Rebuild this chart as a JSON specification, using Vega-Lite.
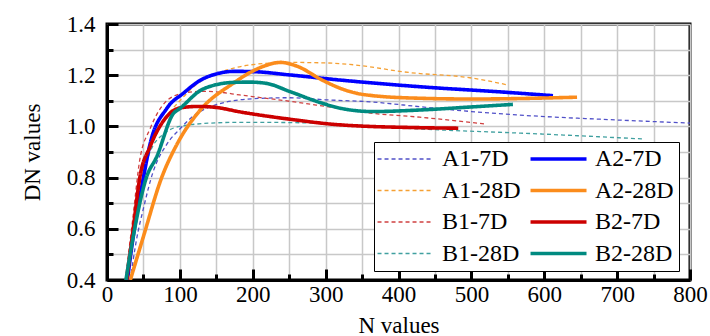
{
  "$schema": "https://vega.github.io/schema/vega-lite/v6.json",
  "width": 583,
  "height": 256,
  "autosize": {"type": "none"},
  "padding": {"left": 107, "top": 24, "right": 20, "bottom": 56},
  "background": "white",
  "config": {
    "view": {"stroke": "black", "strokeWidth": 3},
    "font": "Liberation Serif",
    "axis": {
      "domainColor": "black", "domainWidth": 3,
      "tickColor": "black", "tickWidth": 3,
      "gridColor": "#c8c8c8", "gridWidth": 1.5, "gridOpacity": 1,
      "labelFont": "Liberation Serif", "labelFontSize": 23, "labelColor": "black",
      "titleFont": "Liberation Serif", "titleFontSize": 23, "titleFontWeight": "normal", "titleColor": "black"
    },
    "legend": {
      "labelFont": "Liberation Serif", "labelFontSize": 24, "labelColor": "black"
    }
  },
  "datasets": {
    "dashed": [
      {"s": "A1-7D", "n": 32, "d": 0.4}, {"s": "A1-7D", "n": 40, "d": 0.55}, {"s": "A1-7D", "n": 50, "d": 0.68}, {"s": "A1-7D", "n": 63, "d": 0.82}, {"s": "A1-7D", "n": 82, "d": 0.93}, {"s": "A1-7D", "n": 100, "d": 0.99}, {"s": "A1-7D", "n": 114, "d": 1.03}, {"s": "A1-7D", "n": 150, "d": 1.085}, {"s": "A1-7D", "n": 200, "d": 1.108}, {"s": "A1-7D", "n": 250, "d": 1.112}, {"s": "A1-7D", "n": 300, "d": 1.104}, {"s": "A1-7D", "n": 365, "d": 1.095}, {"s": "A1-7D", "n": 429, "d": 1.077}, {"s": "A1-7D", "n": 500, "d": 1.058}, {"s": "A1-7D", "n": 562, "d": 1.045}, {"s": "A1-7D", "n": 700, "d": 1.025}, {"s": "A1-7D", "n": 800, "d": 1.013},
      {"s": "A1-28D", "n": 26, "d": 0.4}, {"s": "A1-28D", "n": 35, "d": 0.6}, {"s": "A1-28D", "n": 50, "d": 0.83}, {"s": "A1-28D", "n": 75, "d": 1.01}, {"s": "A1-28D", "n": 100, "d": 1.1}, {"s": "A1-28D", "n": 128, "d": 1.175}, {"s": "A1-28D", "n": 150, "d": 1.205}, {"s": "A1-28D", "n": 196, "d": 1.24}, {"s": "A1-28D", "n": 250, "d": 1.25}, {"s": "A1-28D", "n": 300, "d": 1.248}, {"s": "A1-28D", "n": 333, "d": 1.242}, {"s": "A1-28D", "n": 416, "d": 1.21}, {"s": "A1-28D", "n": 498, "d": 1.19}, {"s": "A1-28D", "n": 550, "d": 1.162},
      {"s": "B1-7D", "n": 25, "d": 0.4}, {"s": "B1-7D", "n": 35, "d": 0.63}, {"s": "B1-7D", "n": 45, "d": 0.87}, {"s": "B1-7D", "n": 59, "d": 0.99}, {"s": "B1-7D", "n": 82, "d": 1.1}, {"s": "B1-7D", "n": 105, "d": 1.13}, {"s": "B1-7D", "n": 130, "d": 1.137}, {"s": "B1-7D", "n": 150, "d": 1.135}, {"s": "B1-7D", "n": 182, "d": 1.123}, {"s": "B1-7D", "n": 251, "d": 1.098}, {"s": "B1-7D", "n": 300, "d": 1.078}, {"s": "B1-7D", "n": 365, "d": 1.051}, {"s": "B1-7D", "n": 429, "d": 1.036}, {"s": "B1-7D", "n": 518, "d": 1.01},
      {"s": "B1-28D", "n": 27, "d": 0.4}, {"s": "B1-28D", "n": 40, "d": 0.66}, {"s": "B1-28D", "n": 59, "d": 0.9}, {"s": "B1-28D", "n": 80, "d": 0.975}, {"s": "B1-28D", "n": 100, "d": 1.0}, {"s": "B1-28D", "n": 150, "d": 1.014}, {"s": "B1-28D", "n": 182, "d": 1.016}, {"s": "B1-28D", "n": 250, "d": 1.015}, {"s": "B1-28D", "n": 320, "d": 1.008}, {"s": "B1-28D", "n": 429, "d": 0.99}, {"s": "B1-28D", "n": 598, "d": 0.97}, {"s": "B1-28D", "n": 735, "d": 0.951}
    ],
    "solid": [
      {"s": "A2-7D", "n": 28, "d": 0.4}, {"s": "A2-7D", "n": 36, "d": 0.57}, {"s": "A2-7D", "n": 50, "d": 0.8}, {"s": "A2-7D", "n": 59, "d": 0.93}, {"s": "A2-7D", "n": 82, "d": 1.07}, {"s": "A2-7D", "n": 105, "d": 1.13}, {"s": "A2-7D", "n": 128, "d": 1.18}, {"s": "A2-7D", "n": 150, "d": 1.205}, {"s": "A2-7D", "n": 175, "d": 1.215}, {"s": "A2-7D", "n": 200, "d": 1.214}, {"s": "A2-7D", "n": 251, "d": 1.201}, {"s": "A2-7D", "n": 320, "d": 1.181}, {"s": "A2-7D", "n": 429, "d": 1.155}, {"s": "A2-7D", "n": 549, "d": 1.133}, {"s": "A2-7D", "n": 612, "d": 1.12},
      {"s": "A2-28D", "n": 32, "d": 0.4}, {"s": "A2-28D", "n": 50, "d": 0.57}, {"s": "A2-28D", "n": 75, "d": 0.8}, {"s": "A2-28D", "n": 96, "d": 0.93}, {"s": "A2-28D", "n": 128, "d": 1.064}, {"s": "A2-28D", "n": 173, "d": 1.168}, {"s": "A2-28D", "n": 196, "d": 1.21}, {"s": "A2-28D", "n": 218, "d": 1.238}, {"s": "A2-28D", "n": 238, "d": 1.25}, {"s": "A2-28D", "n": 260, "d": 1.236}, {"s": "A2-28D", "n": 296, "d": 1.18}, {"s": "A2-28D", "n": 320, "d": 1.149}, {"s": "A2-28D", "n": 343, "d": 1.129}, {"s": "A2-28D", "n": 365, "d": 1.12}, {"s": "A2-28D", "n": 429, "d": 1.11}, {"s": "A2-28D", "n": 500, "d": 1.107}, {"s": "A2-28D", "n": 645, "d": 1.114},
      {"s": "B2-7D", "n": 27, "d": 0.4}, {"s": "B2-7D", "n": 36, "d": 0.6}, {"s": "B2-7D", "n": 45, "d": 0.8}, {"s": "B2-7D", "n": 59, "d": 0.92}, {"s": "B2-7D", "n": 82, "d": 1.038}, {"s": "B2-7D", "n": 100, "d": 1.072}, {"s": "B2-7D", "n": 125, "d": 1.078}, {"s": "B2-7D", "n": 150, "d": 1.074}, {"s": "B2-7D", "n": 182, "d": 1.057}, {"s": "B2-7D", "n": 251, "d": 1.028}, {"s": "B2-7D", "n": 320, "d": 1.006}, {"s": "B2-7D", "n": 429, "d": 0.995}, {"s": "B2-7D", "n": 482, "d": 0.993},
      {"s": "B2-28D", "n": 26, "d": 0.4}, {"s": "B2-28D", "n": 36, "d": 0.57}, {"s": "B2-28D", "n": 54, "d": 0.8}, {"s": "B2-28D", "n": 68, "d": 0.88}, {"s": "B2-28D", "n": 91, "d": 1.05}, {"s": "B2-28D", "n": 100, "d": 1.07}, {"s": "B2-28D", "n": 128, "d": 1.14}, {"s": "B2-28D", "n": 150, "d": 1.163}, {"s": "B2-28D", "n": 175, "d": 1.172}, {"s": "B2-28D", "n": 196, "d": 1.173}, {"s": "B2-28D", "n": 219, "d": 1.168}, {"s": "B2-28D", "n": 251, "d": 1.136}, {"s": "B2-28D", "n": 296, "d": 1.09}, {"s": "B2-28D", "n": 320, "d": 1.071}, {"s": "B2-28D", "n": 365, "d": 1.058}, {"s": "B2-28D", "n": 429, "d": 1.064}, {"s": "B2-28D", "n": 500, "d": 1.076}, {"s": "B2-28D", "n": 557, "d": 1.086}
    ]
  },
  "encoding": {
    "x": {"field": "n", "type": "quantitative", "scale": {"domain": [0, 800], "nice": false},
      "axis": {"orient": "bottom", "title": "N values", "values": [0, 50, 100, 150, 200, 250, 300, 350, 400, 450, 500, 550, 600, 650, 700, 750, 800],
        "labelExpr": "datum.value % 100 === 0 ? datum.label : ''",
        "tickSize": {"condition": {"test": "datum.value % 100 === 0", "value": -11}, "value": -6},
        "labelPadding": 14, "titlePadding": 3, "grid": true, "labelFlush": false, "labelOverlap": false}},
    "y": {"field": "d", "type": "quantitative", "scale": {"domain": [0.4, 1.4], "nice": false, "zero": false},
      "axis": {"orient": "left", "title": "DN values", "values": [0.4, 0.5, 0.6, 0.7, 0.8, 0.9, 1.0, 1.1, 1.2, 1.3, 1.4],
        "labelExpr": "round(datum.value * 10) % 2 === 0 ? format(datum.value, '.1f') : ''",
        "tickSize": {"condition": {"test": "round(datum.value * 10) % 2 === 0", "value": -11}, "value": -6},
        "labelPadding": 23, "titlePadding": 22, "grid": true, "labelFlush": false, "labelOverlap": false}},
    "color": {"field": "s", "type": "nominal", "title": null,
      "scale": {"domain": ["A1-7D", "A2-7D", "A1-28D", "A2-28D", "B1-7D", "B2-7D", "B1-28D", "B2-28D"],
        "range": ["#5050c8", "#0000ff", "#f5a033", "#fb8c1c", "#d04040", "#cc0000", "#40a0a0", "#008a80"]},
      "legend": {"orient": "none", "legendX": 267, "legendY": 118, "columns": 2, "direction": "horizontal",
        "symbolType": "M-2.45,0H7.73", "symbolSize": 121, "symbolStrokeWidth": 2.5, "labelOffset": 39, "columnPadding": 2, "rowPadding": 7.5,
        "padding": 5, "strokeColor": "black", "fillColor": "white", "labelBaseline": "middle",
        "encode": {"symbols": {"update": {"strokeWidth": {"signal": "datum.index % 2 === 1 ? 3.6 : 1.3"}}}}}},
    "strokeDash": {"field": "s", "type": "nominal", "title": null,
      "scale": {"domain": ["A1-7D", "A2-7D", "A1-28D", "A2-28D", "B1-7D", "B2-7D", "B1-28D", "B2-28D"],
        "range": [[4, 3], [1, 0], [4, 3], [1, 0], [4, 3], [1, 0], [4, 3], [1, 0]]}}
  },
  "layer": [
    {
      "data": {"name": "dashed"},
      "mark": {"type": "line", "interpolate": "monotone", "clip": true, "strokeWidth": 1.3}
    },
    {
      "data": {"name": "solid"},
      "mark": {"type": "line", "interpolate": "monotone", "clip": true, "strokeWidth": 3.6}
    }
  ]
}
